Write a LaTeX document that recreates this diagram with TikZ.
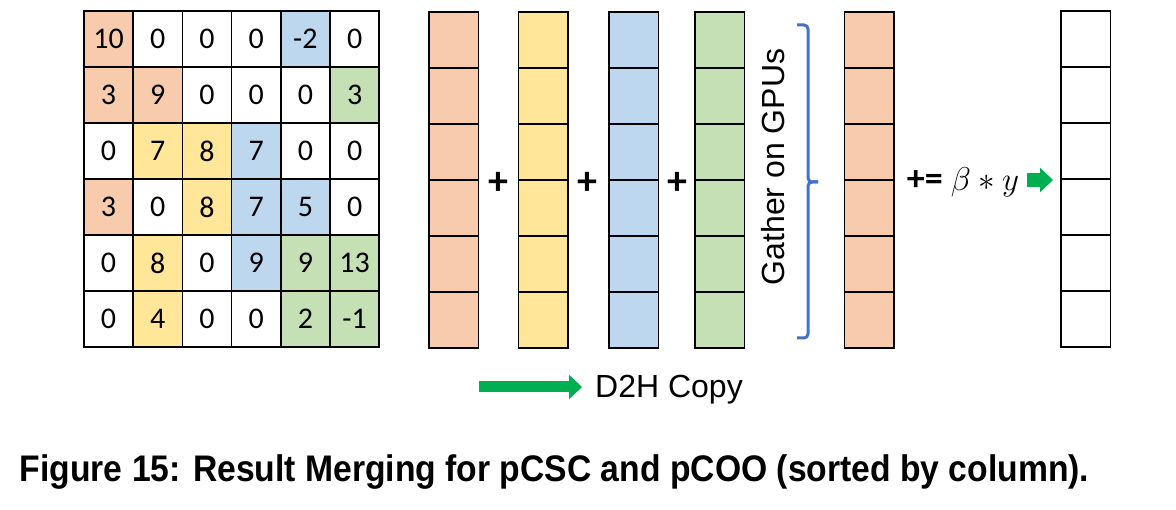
\RequirePackage{fix-cm}
\documentclass[tikz,border=0pt]{standalone}
\usepackage{amsmath}
\usepackage{fontspec}
\usepackage{tikz}
\usetikzlibrary{arrows.meta}

\newfontfamily\calibri{Carlito}
\newfontfamily\arial{Liberation Sans}

\definecolor{cOrange}{HTML}{F8CBAD}
\definecolor{cYellow}{HTML}{FFE699}
\definecolor{cBlue}{HTML}{BDD7EE}
\definecolor{cGreen}{HTML}{C5E0B4}
\definecolor{cBrace}{HTML}{4472C4}
\definecolor{cCopy}{HTML}{00B050}

\begin{document}
\begin{tikzpicture}[x=1pt,y=1pt,
  mcell/.style={draw=black, line width=1.5pt, minimum width=49.2pt, minimum height=56pt,
    font=\calibri\fontsize{30}{36}\selectfont},
  vcell/.style={draw=black, line width=1.5pt, minimum width=49.5pt, minimum height=56pt},
  plus/.style={font=\calibri\bfseries\fontsize{40}{46}\selectfont},
  copyarrow/.style={draw=cCopy, line width=#1, -{Triangle[length=13pt,width=24pt]}}]
\tikzstyle{every node}+=[inner sep=0pt]
\useasboundingbox (0,0) rectangle (1176,-510);
% sparse matrix
\node [mcell,fill=cOrange] (m11) at (108.6,-39) {10};
\node [mcell] (m12) at (157.8,-39) {0};
\node [mcell] (m13) at (207.0,-39) {0};
\node [mcell] (m14) at (256.2,-39) {0};
\node [mcell,fill=cBlue] (m15) at (305.4,-39) {-2};
\node [mcell] (m16) at (354.6,-39) {0};
\node [mcell,fill=cOrange] (m21) at (108.6,-95) {3};
\node [mcell,fill=cOrange] (m22) at (157.8,-95) {9};
\node [mcell] (m23) at (207.0,-95) {0};
\node [mcell] (m24) at (256.2,-95) {0};
\node [mcell] (m25) at (305.4,-95) {0};
\node [mcell,fill=cGreen] (m26) at (354.6,-95) {3};
\node [mcell] (m31) at (108.6,-151) {0};
\node [mcell,fill=cYellow] (m32) at (157.8,-151) {7};
\node [mcell,fill=cYellow] (m33) at (207.0,-151) {8};
\node [mcell,fill=cBlue] (m34) at (256.2,-151) {7};
\node [mcell] (m35) at (305.4,-151) {0};
\node [mcell] (m36) at (354.6,-151) {0};
\node [mcell,fill=cOrange] (m41) at (108.6,-207) {3};
\node [mcell] (m42) at (157.8,-207) {0};
\node [mcell,fill=cYellow] (m43) at (207.0,-207) {8};
\node [mcell,fill=cBlue] (m44) at (256.2,-207) {7};
\node [mcell,fill=cBlue] (m45) at (305.4,-207) {5};
\node [mcell] (m46) at (354.6,-207) {0};
\node [mcell] (m51) at (108.6,-263) {0};
\node [mcell,fill=cYellow] (m52) at (157.8,-263) {8};
\node [mcell] (m53) at (207.0,-263) {0};
\node [mcell,fill=cBlue] (m54) at (256.2,-263) {9};
\node [mcell,fill=cGreen] (m55) at (305.4,-263) {9};
\node [mcell,fill=cGreen] (m56) at (354.6,-263) {13};
\node [mcell] (m61) at (108.6,-319) {0};
\node [mcell,fill=cYellow] (m62) at (157.8,-319) {4};
\node [mcell] (m63) at (207.0,-319) {0};
\node [mcell] (m64) at (256.2,-319) {0};
\node [mcell,fill=cGreen] (m65) at (305.4,-319) {2};
\node [mcell,fill=cGreen] (m66) at (354.6,-319) {-1};
% partial results per GPU, merged result, output
\foreach \i in {1,...,6} {
  \node [vcell,fill=cOrange] (po\i) at (453.5,{16-56*\i}) {};
  \node [vcell,fill=cYellow] (py\i) at (543,{16-56*\i}) {};
  \node [vcell,fill=cBlue] (pb\i) at (633.5,{16-56*\i}) {};
  \node [vcell,fill=cGreen] (pg\i) at (719.5,{16-56*\i}) {};
  \node [vcell,fill=cOrange] (res\i) at (869,{16-56*\i}) {};
  \node [vcell] (out\i) at (1085.5,{17-56*\i}) {};
}
\node [plus] (plus1) at (498,-183) {+};
\node [plus] (plus2) at (587,-183) {+};
\node [plus] (plus3) at (677,-183) {+};
% gather
\node [rotate=90, font=\arial\fontsize{32}{38}\selectfont] (gather) at (773,-167) {Gather on GPUs};
\draw [cBrace, line width=3pt, rounded corners=4pt] (797,-25) -- (808,-25) -- (808,-182) -- (818,-182);
\draw [cBrace, line width=3pt, rounded corners=4pt] (818,-182) -- (808,-182) -- (808,-338) -- (797,-338);
% update with beta*y
\node [anchor=base, font=\calibri\bfseries\fontsize{36}{42}\selectfont] (upd) at (963,-191)
  {+= {\fontsize{33}{40}\selectfont$\beta*y$}};
\coordinate (upd-s) at (1027,-180);
\coordinate (upd-t) at (1053,-180);
\draw [copyarrow=14pt] (upd-s) -- (upd-t);
% legend
\coordinate (lg-s) at (479,-387);
\coordinate (lg-t) at (582,-387);
\draw [copyarrow=11pt] (lg-s) -- (lg-t);
\node [anchor=base west, font=\arial\fontsize{32}{38}\selectfont] (lgtext) at (595,-398) {D2H Copy};
% caption
\node [anchor=base, font=\arial\bfseries\fontsize{37}{44}\selectfont] (caption) at (554.5,-482)
  {\scalebox{0.91}[1]{Figure 15: Result Merging for pCSC and pCOO (sorted by column).}};
\end{tikzpicture}
\end{document}
